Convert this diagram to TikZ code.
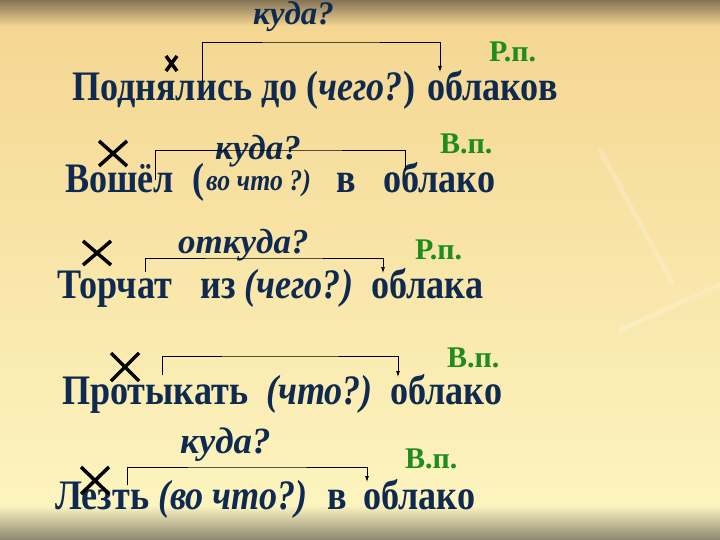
\documentclass[tikz,border=0pt]{standalone}
\usepackage{fontspec}
\usepackage{graphicx}
\setmainfont{Liberation Serif}
\usetikzlibrary{arrows.meta}
\definecolor{ink}{HTML}{0E2A50}
\definecolor{grn}{HTML}{1E8C1E}
\definecolor{bgA}{HTML}{F4D590}
\definecolor{bgB}{HTML}{FDF6C2}
\definecolor{topC}{HTML}{857355}
\definecolor{botC}{HTML}{8A8770}
\newcommand{\sx}[1]{\scalebox{0.86}[1]{#1}}
\tikzset{
  line/.style={font=\fontsize{42}{42}\selectfont\bfseries, text=ink, anchor=base west, inner sep=0pt},
  quest/.style={font=\fontsize{34}{34}\selectfont\bfseries\itshape, text=ink, anchor=base west, inner sep=0pt},
  small/.style={font=\fontsize{30}{30}\selectfont\bfseries\itshape, text=ink, anchor=base west, inner sep=0pt},
  casel/.style={font=\fontsize{30}{30}\selectfont\bfseries, text=grn, anchor=base west, inner sep=0pt},
  xmark/.style={line width=3.5pt, black},
  conn/.style={draw=black, line width=0.8pt},
  arr/.style={conn, -{Latex[length=6pt,width=4pt]}},
  streak/.style={white, opacity=0.2, line width=5pt, line cap=round}
}
\begin{document}
\begin{tikzpicture}[x=1pt,y=-1pt]
\useasboundingbox (0,0) rectangle (720,540);
% background
\shade[top color=bgA, bottom color=bgB] (0,0) rectangle (720,540);
\shade[top color=topC, bottom color=bgA] (0,0) rectangle (720,26);
\shade[top color=bgB, bottom color=botC] (0,505) rectangle (720,540);
\draw[streak] (600,150) -- (672,282);
\draw[streak] (620,330) -- (720,285);

% ---- line 1
\node[quest, font=\fontsize{33}{33}\selectfont\bfseries\itshape] (q1) at (253,25) {куда?};
\node[casel] (c1) at (489,62) {Р.п.};
\node[line] (l1) at (72,101) {\sx{Поднялись до (\textit{чего?}) облаков}};
\draw[xmark] (166,56) -- (177,71) (177,56) -- (166,71);
\coordinate (a1) at (202,82);
\coordinate (b1) at (440,72);
\draw[arr] (a1) |- (321,42) -| (b1);

% ---- line 2
\node[quest, font=\fontsize{35}{35}\selectfont\bfseries\itshape] (q2) at (215,160) {куда?};
\node[casel] (c2) at (440,154) {В.п.};
\node[line] (l2a) at (65,193) {\sx{Вошёл}};
\node[line] (l2b) at (192,193) {\sx{(}};
\node[small] (l2c) at (206,191) {\sx{во что ?)}};
\node[line] (l2d) at (336,193) {\sx{в}};
\node[line] (l2e) at (383,193) {\sx{облако}};
\draw[xmark] (99,141) -- (127,166) (127,141) -- (99,166);
\coordinate (a2) at (155,180);
\coordinate (b2) at (405,170);
\draw[conn] (a2) |- (280,150) -| (b2);

% ---- line 3
\node[quest, font=\fontsize{35}{35}\selectfont\bfseries\itshape] (q3) at (178,253) {откуда?};
\node[casel] (c3) at (415,259) {Р.п.};
\node[line] (l3a) at (57,298) {\sx{Торчат}};
\node[line] (l3b) at (200,298) {\sx{из \textit{(чего?)}}};
\node[line] (l3c) at (371,298) {\sx{облака}};
\draw[xmark] (83,241) -- (111,265) (111,241) -- (83,265);
\coordinate (a3) at (145,272);
\coordinate (b3) at (383,273);
\draw[arr] (a3) |- (264,258) -| (b3);

% ---- line 4
\node[casel] (c4) at (447,367) {В.п.};
\node[line] (l4a) at (62,404) {\sx{Протыкать}};
\node[line] (l4b) at (266,404) {\sx{\textit{(что?)}}};
\node[line] (l4c) at (390,404) {\sx{облако}};
\draw[xmark] (111,353) -- (139,381) (139,353) -- (111,381);
\coordinate (a4) at (162,375);
\coordinate (b4) at (398,377);
\draw[arr] (a4) |- (280,356) -| (b4);

% ---- line 5
\node[quest, font=\fontsize{37}{37}\selectfont\bfseries\itshape] (q5) at (180,453) {куда?};
\node[casel] (c5) at (405,468) {В.п.};
\node[line] (l5a) at (55,509) {\sx{Лезть}};
\node[line] (l5b) at (158,509) {\sx{\textit{(во что?)}}};
\node[line] (l5c) at (327,509) {\sx{в}};
\node[line] (l5d) at (363,509) {\sx{облако}};
\draw[xmark] (81,467) -- (109,494) (109,467) -- (81,494);
\coordinate (a5) at (127,485);
\coordinate (b5) at (367,482);
\draw[arr] (a5) |- (247,467) -| (b5);
\end{tikzpicture}
\end{document}
